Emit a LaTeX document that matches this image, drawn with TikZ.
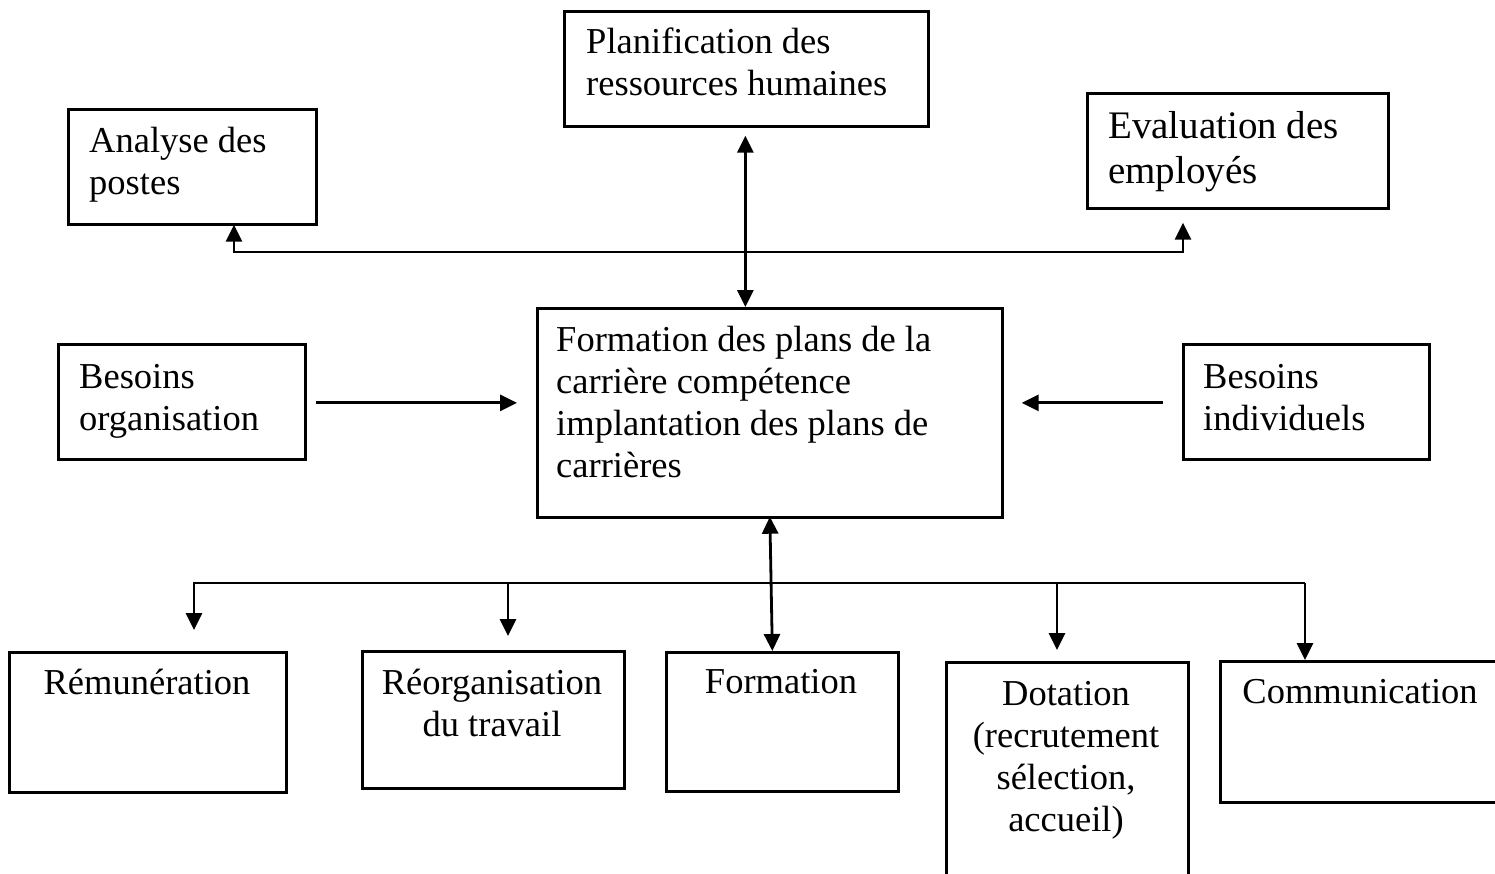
\documentclass[tikz,border=0pt]{standalone}
\usepackage{fontspec}
\setmainfont{Liberation Serif}
\usetikzlibrary{arrows.meta,calc}

% box from its top-left (#2,#3) to bottom-right (#4,#5) corner
\newcommand\frbox[5]{%
  \node[boxst, minimum width={(#4-#2)*1pt}, minimum height={(#5-#3)*1pt}] (#1) at (#2,#3) {};}

\begin{document}
\begin{tikzpicture}[x=1pt, y=-1pt,
  boxst/.style={draw, line width=2.7pt, inner sep=0pt, anchor=north west},
  lbl/.style={inner sep=0pt, anchor=base west, font=\fontsize{36.5}{42}\selectfont},
  clbl/.style={inner sep=0pt, anchor=base, font=\fontsize{36.5}{42}\selectfont},
  biglbl/.style={inner sep=0pt, anchor=base west, font=\fontsize{39}{45}\selectfont},
  ln/.style={line width=2.8pt},
  arr/.style={ln, -{Triangle[length=17pt, width=16pt]}},
  arrboth/.style={ln, {Triangle[length=17pt, width=16pt]}-{Triangle[length=17pt, width=16pt]}}]

\useasboundingbox (0,0) rectangle (1495,873);
\clip (0,0) rectangle (1495,873);

% boxes
\frbox{an}{67}{108}{315}{223}
\frbox{pl}{563}{10}{927}{125}
\frbox{ev}{1086}{92}{1387}{207}
\frbox{bo}{57}{343}{304}{458}
\frbox{ce}{536}{307}{1001}{516}
\frbox{bi}{1182}{343}{1428}{458}
\frbox{re}{8}{651}{285}{791}
\frbox{ro}{361}{650}{623}{787}
\frbox{fo}{665}{651}{897}{790}
\frbox{do}{945}{661}{1187}{900}
\frbox{co}{1219}{660}{1501}{801}

% labels
\node[lbl] (t-an) at (89,152) {\parbox[t]{240pt}{Analyse des\\postes}};
\node[lbl] (t-pl) at (586,53) {\parbox[t]{340pt}{Planification des\\ressources humaines}};
\node[biglbl] (t-ev) at (1108,138) {\parbox[t]{280pt}{Evaluation des\\employés}};
\node[lbl] (t-bo) at (79,388) {\parbox[t]{240pt}{Besoins\\organisation}};
\node[lbl] (t-ce) at (556,351) {\parbox[t]{440pt}{Formation des plans de la\\carrière compétence\\implantation des plans de\\carrières}};
\node[lbl] (t-bi) at (1203,388) {\parbox[t]{240pt}{Besoins\\individuels}};
\node[clbl] (t-re) at (147,694) {\parbox[t]{270pt}{\centering Rémunération}};
\node[clbl] (t-ro) at (492,694) {\parbox[t]{270pt}{\centering Réorganisation\\du travail}};
\node[clbl] (t-fo) at (781,693) {\parbox[t]{230pt}{\centering Formation}};
\node[clbl] (t-do) at (1066,705) {\parbox[t]{260pt}{\centering Dotation\\(recrutement\\sélection,\\accueil)}};
\node[clbl] (t-co) at (1360,703) {\parbox[t]{280pt}{\centering Communication}};

% upper branch
\coordinate (topL) at (234,252);
\coordinate (topR) at (1183,252);
\draw[arrboth] ([yshift=1pt]an.south -| topL) -- (topL) -- (topR) -- ([yshift=-13pt]ev.south -| topR);
\draw[arrboth] ([xshift=-1pt, yshift=-8pt]pl.south) -- ([xshift=-1pt]pl.south |- ce.north);

% side inputs
\draw[arr] ([xshift=9pt, yshift=-1pt]bo.east) -- ([xshift=-19pt, yshift=-1pt]bo.east -| ce.west);
\draw[arr] ([xshift=-19pt, yshift=-1pt]bi.west) -- ([xshift=18pt, yshift=-1pt]bi.west -| ce.east);

% lower branch
\coordinate (bL) at (194,583);
\coordinate (bR) at (1305,583);
\coordinate (b2) at (508,583);
\coordinate (b4) at (1057,583);
\draw[arrboth] ([yshift=2pt]ce.south) -- ([xshift=-10pt]fo.north);
\draw[arr] (bR) -- (bL) -- ([yshift=21pt]re.north -| bL);
\draw[arr] (b2) -- ([yshift=14pt]ro.north -| b2);
\draw[arr] (b4) -- ([yshift=11pt]do.north -| b4);
\draw[arr] (bR) -- (co.north -| bR);
\end{tikzpicture}
\end{document}
